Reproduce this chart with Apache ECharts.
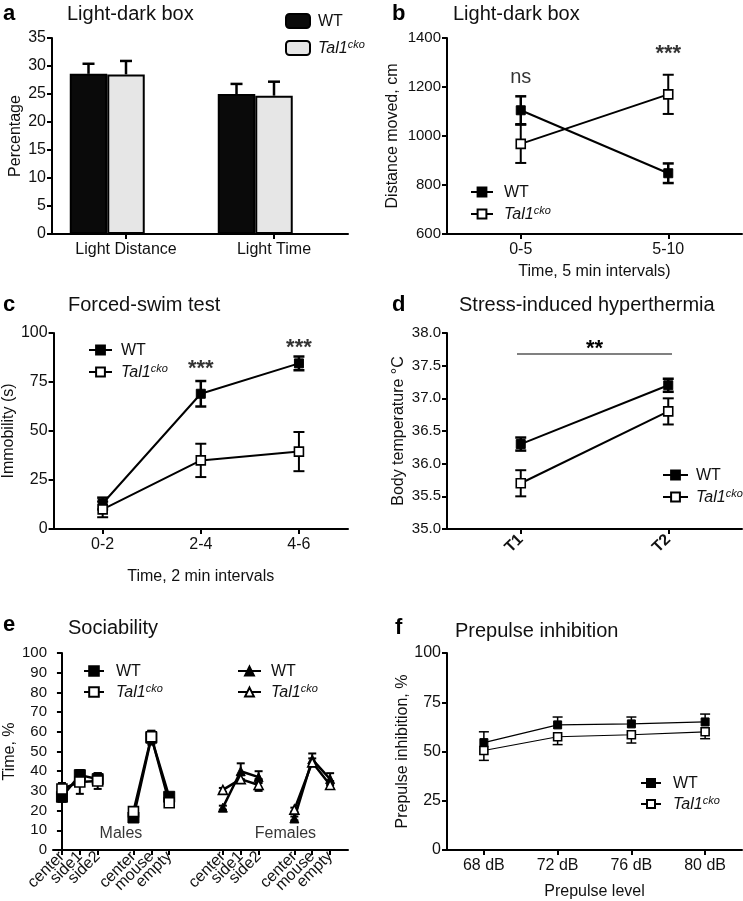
<!DOCTYPE html>
<html><head><meta charset="utf-8">
<script src="https://cdn.jsdelivr.net/npm/echarts@6/dist/echarts.min.js"></script>
<style>html,body{margin:0;padding:0;background:#fff}#c{width:743px;height:901px}</style>
</head><body><div id="c"></div><script>
// ---------- DATA ----------
const aCategories = ['Light Distance', 'Light Time'];
const aWT = [28.6, 25.0];
const aWTerr = [1.8, 1.8];
const aTal = [28.5, 24.7];
const aTalErr = [2.4, 2.5];

const bCategories = ['0-5', '5-10'];
const bWT = [1105, 848];
const bWTerr = [57, 40];
const bTal = [968, 1170];
const bTalErr = [78, 80];
const bSigText = ['ns', '***'];
const bSigY = [1237, 1335];

const cCategories = ['0-2', '2-4', '4-6'];
const cWT = [13, 69, 84.5];
const cWTerr = [3, 6.5, 3.5];
const cTal = [10, 35, 39.5];
const cTalErr = [4, 8.5, 10];
const cSigText = ['', '***', '***'];
const cSigY = [0, 81.5, 92.5];

const dCategories = ['T1', 'T2'];
const dWT = [36.3, 37.2];
const dWTerr = [0.1, 0.1];
const dTal = [35.7, 36.8];
const dTalErr = [0.2, 0.2];
const dSigY = 37.68;

const eTickLabels = ['center', 'side1', 'side2', '', 'center', 'mouse', 'empty', '', '', 'center', 'side1', 'side2', '', 'center', 'mouse', 'empty'];
const eTickVals = [0, 1, 2, 4, 5, 6, 9, 10, 11, 13, 14, 15];
const eMalePos = [[0, 1, 2], [4, 5, 6]];
const eFemPos = [[9, 10, 11], [13, 14, 15]];
const eMaleWT = [27, 38, 36, 16.5, 57, 27];
const eMaleWTerr = [2.5, 2.5, 3, 1.5, 3.5, 1.5];
const eMaleTal = [31, 34.5, 35, 19.5, 57.5, 24];
const eMaleTalErr = [3, 6, 4, 2, 3, 2];
const eFemWT = [21.5, 40, 37, 16, 46, 36];
const eFemWTerr = [1, 4, 3, 1, 3, 3];
const eFemTal = [30.5, 36, 33, 20.5, 44.5, 33];
const eFemTalErr = [1, 2, 3, 1, 2, 2];
const eGroupText = ['Males', 'Females'];
const eGroupX = [3.3, 12.5];
const eGroupY = [8.1, 8.1];

const fCategories = ['68 dB', '72 dB', '76 dB', '80 dB'];
const fWT = [54.5, 63.5, 64, 65];
const fWTerr = [5.5, 4, 3.5, 4];
const fTal = [50.5, 57.5, 58.5, 60];
const fTalErr = [5, 4, 4.2, 3.5];

// ---------- HELPERS ----------
const FONT = 'Liberation Sans, Arial, Helvetica, sans-serif';
const INK = '#111';

function errRender(dir, capHalf, offsetRatio, lw) {
  return function (params, api) {
    const xi = api.value(0), v = api.value(1), e = api.value(2);
    let dx = 0;
    if (offsetRatio) dx = api.size([1, 0])[0] * offsetRatio;
    const p = api.coord([xi, v]);
    const x = p[0] + dx;
    const pu = api.coord([xi, v + e]);
    const pd = api.coord([xi, v - e]);
    const yTop = dir === 'down' ? p[1] : pu[1];
    const yBot = dir === 'up' ? p[1] : pd[1];
    const st = { stroke: '#000', lineWidth: lw };
    const ch = [{ type: 'line', shape: { x1: x, y1: yTop, x2: x, y2: yBot }, style: st }];
    if (dir !== 'down') ch.push({ type: 'line', shape: { x1: x - capHalf, y1: pu[1], x2: x + capHalf, y2: pu[1] }, style: st });
    if (dir !== 'up') ch.push({ type: 'line', shape: { x1: x - capHalf, y1: pd[1], x2: x + capHalf, y2: pd[1] }, style: st });
    return { type: 'group', children: ch };
  };
}
function errSeries(ax, vals, errs, dir, capHalf, lw, offsetRatio, xs) {
  return {
    type: 'custom', xAxisIndex: ax, yAxisIndex: ax, z: 1, silent: true,
    renderItem: errRender(dir, capHalf, offsetRatio || 0, lw),
    data: vals.map((v, i) => [xs ? xs[i] : i, v, errs[i]]),
    encode: { x: 0, y: 1 }
  };
}
function lineSeries(ax, name, vals, filled, symbol, size, lw, xs) {
  return {
    type: 'line', name: name, xAxisIndex: ax, yAxisIndex: ax, z: 3,
    data: xs ? vals.map((v, i) => [xs[i], v]) : vals,
    symbol: symbol, symbolSize: size, showSymbol: true,
    lineStyle: { color: '#000', width: lw },
    itemStyle: filled ? { color: '#000', borderColor: '#000', borderWidth: 1 } : { color: '#fff', borderColor: '#000', borderWidth: 1.6 },
    emphasis: { disabled: true }, animation: false
  };
}
function legend(names, left, top, itemWidth, itemHeight, gap, pad) {
  return {
    data: names, orient: 'vertical', left: left, top: top,
    itemWidth: itemWidth, itemHeight: itemHeight, itemGap: gap, selectedMode: false,
    formatter: n => n.indexOf('WT') === 0 ? '{n|WT}' : '{i|Tal1}{s|cko}',
    textStyle: {
      rich: {
        n: { fontSize: 16, color: INK, fontFamily: FONT, padding: [0, 0, 0, pad], verticalAlign: 'bottom', lineHeight: 18 },
        i: { fontSize: 16, color: INK, fontFamily: FONT, fontStyle: 'italic', padding: [0, 0, 0, pad], verticalAlign: 'bottom', lineHeight: 18 },
        s: { fontSize: 11, color: INK, fontFamily: FONT, fontStyle: 'italic', padding: [0, 0, 7, 0], verticalAlign: 'bottom', lineHeight: 12 }
      }
    }
  };
}
function yAxis(ax, min, max, interval, name, nameGap, fs, fmt) {
  return {
    type: 'value', gridIndex: ax, min: min, max: max, interval: interval,
    name: name, nameLocation: 'middle', nameGap: nameGap,
    nameTextStyle: { fontSize: 16, color: INK, fontFamily: FONT },
    axisLine: { show: true, lineStyle: { color: '#000', width: 2 } },
    axisTick: { show: true, length: 5, lineStyle: { color: '#000', width: 2 } },
    axisLabel: { fontSize: fs, color: INK, margin: 6, fontFamily: FONT, formatter: fmt || (v => String(v)) },
    splitLine: { show: false }
  };
}
function xCat(ax, cats, fs, name, nameGap, extra) {
  return Object.assign({
    type: 'category', gridIndex: ax, data: cats, boundaryGap: true,
    name: name || '', nameLocation: 'middle', nameGap: nameGap || 30,
    nameTextStyle: { fontSize: 16, color: INK, fontFamily: FONT },
    axisLine: { show: true, lineStyle: { color: '#000', width: 2 } },
    axisTick: { show: true, alignWithLabel: true, length: 5, lineStyle: { color: '#000', width: 2 } },
    axisLabel: { fontSize: fs, color: INK, margin: 8, fontFamily: FONT },
    splitLine: { show: false }
  }, extra || {});
}
function annot(ax, data, fs, bold) {
  return {
    type: 'scatter', xAxisIndex: ax, yAxisIndex: ax, symbolSize: 0, silent: true, z: 5,
    itemStyle: { color: '#000' },
    data: data,
    label: { show: true, position: 'inside', formatter: p => p.data[2], fontSize: fs, color: '#000',
      textBorderWidth: 0, textBorderColor: 'transparent', fontFamily: FONT, fontWeight: bold ? 'bold' : 'normal' },
    emphasis: { disabled: true }
  };
}

// ---------- OPTION ----------
const grids = [
  { left: 52, top: 38, width: 296, height: 196 },
  { left: 447, top: 38, width: 295, height: 196 },
  { left: 53, top: 333, width: 295, height: 196 },
  { left: 447, top: 333, width: 295, height: 196 },
  { left: 53, top: 653, width: 295, height: 197 },
  { left: 447, top: 653, width: 295, height: 197 }
];

const series = [];
// a
series.push({ type: 'bar', name: 'WT_a', xAxisIndex: 0, yAxisIndex: 0, data: aWT, barGap: '0%', barCategoryGap: '24%',
  itemStyle: { color: '#0a0a0a', borderColor: '#000', borderWidth: 2 }, z: 2 });
series.push({ type: 'bar', name: 'Tal_a', xAxisIndex: 0, yAxisIndex: 0, data: aTal, barGap: '0%', barCategoryGap: '24%',
  itemStyle: { color: '#e6e6e6', borderColor: '#000', borderWidth: 2 }, z: 2 });
series.push({ type: 'bar', name: 'blank_a', xAxisIndex: 0, yAxisIndex: 0, data: ['-', '-'], barGap: '0%', barCategoryGap: '24%' });
series.push(errSeries(0, aWT, aWTerr, 'up', 6, 2.5, -0.2533));
series.push(errSeries(0, aTal, aTalErr, 'up', 6, 2.5, 0));
// b
series.push(errSeries(1, bWT, bWTerr, 'both', 5.5, 2.5));
series.push(errSeries(1, bTal, bTalErr, 'both', 5.5, 2));
series.push(lineSeries(1, 'WT_b', bWT, true, 'rect', 9, 2));
series.push(lineSeries(1, 'Tal_b', bTal, false, 'rect', 9, 2));
series.push(annot(1, [[0, bSigY[0], bSigText[0]]], 20, false));
series.push(annot(1, [[1, bSigY[1], bSigText[1]]], 22, true));
// c
series.push(errSeries(2, cWT, cWTerr, 'both', 5.5, 2.5));
series.push(errSeries(2, cTal, cTalErr, 'both', 5.5, 2));
series.push(lineSeries(2, 'WT_c', cWT, true, 'rect', 9, 2));
series.push(lineSeries(2, 'Tal_c', cTal, false, 'rect', 9, 2));
series.push(annot(2, cSigText.map((t, i) => [i, cSigY[i], t]), 22, true));
// d
series.push(errSeries(3, dWT, dWTerr, 'both', 5.5, 2.5));
series.push(errSeries(3, dTal, dTalErr, 'both', 5.5, 2));
const dWTline = lineSeries(3, 'WT_d', dWT, true, 'rect', 9, 2);
dWTline.markLine = {
  silent: true, symbol: 'none', animation: false,
  lineStyle: { color: '#808080', width: 2, type: 'solid' },
  label: { show: true, position: 'middle', formatter: '**', fontSize: 22, fontWeight: 'bold', color: '#000', distance: -6 },
  data: [[{ coord: [0, dSigY], x: 517 }, { coord: [1, dSigY], x: 672 }]]
};
series.push(dWTline);
series.push(lineSeries(3, 'Tal_d', dTal, false, 'rect', 9, 2));
// e
[[eMalePos, eMaleWT, eMaleWTerr, 'WT_em', true, 'rect', 11], [eMalePos, eMaleTal, eMaleTalErr, 'Tal_em', false, 'rect', 10],
 [eFemPos, eFemWT, eFemWTerr, 'WT_ef', true, 'triangle', 9], [eFemPos, eFemTal, eFemTalErr, 'Tal_ef', false, 'triangle', 9]].forEach(g => {
  const [pos, vals, errs, name, filled, sym, size] = g;
  pos.forEach((xs, gi) => {
    const v = vals.slice(gi * 3, gi * 3 + 3), er = errs.slice(gi * 3, gi * 3 + 3);
    series.push(errSeries(4, v, er, 'both', 4, 2, 0, xs));
    series.push(lineSeries(4, name, v, filled, sym, size, 2.5, xs));
  });
});
series.push(annot(4, eGroupText.map((t, i) => [eGroupX[i], eGroupY[i], t]), 16, false));
// f
series.push(errSeries(5, fWT, fWTerr, 'up', 5, 1.5));
series.push(errSeries(5, fTal, fTalErr, 'down', 5, 1.5));
series.push(lineSeries(5, 'WT_f', fWT, true, 'rect', 8, 1.2));
series.push(lineSeries(5, 'Tal_f', fTal, false, 'rect', 8, 1.2));

// label positions for panel e include the (blank) axis ends so no real label is auto-hidden
const eLabelVals = [-0.5].concat(eTickVals, [16]);

const option = {
  animation: false,
  textStyle: { fontFamily: FONT, color: INK },
  grid: grids,
  xAxis: [
    xCat(0, aCategories, 16),
    xCat(1, bCategories, 16, 'Time, 5 min intervals)', 30),
    xCat(2, cCategories, 16, 'Time, 2 min intervals', 40),
    xCat(3, dCategories, 16, '', 30, { axisLabel: { fontSize: 16, color: INK, rotate: 45, margin: 8, fontWeight: 'bold', fontFamily: FONT } }),
    {
      type: 'value', gridIndex: 4, min: -0.5, max: 16,
      axisLine: { show: true, lineStyle: { color: '#000', width: 2 } },
      axisTick: { show: true, length: 5, customValues: eTickVals, lineStyle: { color: '#000', width: 2 } },
      axisLabel: { show: true, customValues: eLabelVals, rotate: 45, fontSize: 16, color: INK, margin: 4, fontFamily: FONT,
        hideOverlap: false,
        formatter: v => (Number.isInteger(v) && eTickLabels[v]) ? eTickLabels[v] : '' },
      splitLine: { show: false }
    },
    xCat(5, fCategories, 16, 'Prepulse level', 34)
  ],
  yAxis: [
    yAxis(0, 0, 35, 5, 'Percentage', 28, 16),
    yAxis(1, 600, 1400, 200, 'Distance moved, cm', 46, 15),
    yAxis(2, 0, 100, 25, 'Immobility (s)', 24, 16),
    yAxis(3, 35, 38, 0.5, 'Body temperature \u00B0C', 40, 15, v => v.toFixed(1)),
    yAxis(4, 0, 100, 10, 'Time, %', 24, 15),
    yAxis(5, 0, 100, 25, 'Prepulse inhibition, %', 24, 16)
  ],
  legend: [
    legend(['WT_a', 'Tal_a'], 280, 8, 24, 14, 9, 3),
    legend(['WT_b', 'Tal_b'], 465, 180, 22, 11, 4, 6),
    legend(['WT_c', 'Tal_c'], 83, 338, 23, 11, 4, 4),
    legend(['WT_d', 'Tal_d'], 657, 463, 25, 11, 4, 3),
    legend(['WT_em', 'Tal_em'], 78, 659, 20, 12, 3, 7),
    legend(['WT_ef', 'Tal_ef'], 232, 659, 23, 11, 3, 5),
    legend(['WT_f', 'Tal_f'], 635, 771, 20, 10, 3, 7)
  ],
  graphic: [
    ['a', 3, 14], ['b', 392, 14], ['c', 3, 305], ['d', 392, 305], ['e', 3, 625], ['f', 395, 628]
  ].map(t => ({ type: 'text', x: t[1], y: t[2], style: { text: t[0], font: 'bold 22px ' + FONT, fill: '#000', textVerticalAlign: 'middle', verticalAlign: 'middle' } }))
  .concat([
    ['Light-dark box', 67, 14], ['Light-dark box', 453, 14], ['Forced-swim test', 68, 305],
    ['Stress-induced hyperthermia', 459, 305], ['Sociability', 68, 628], ['Prepulse inhibition', 455, 631]
  ].map(t => ({ type: 'text', x: t[1], y: t[2], style: { text: t[0], font: '20px ' + FONT, fill: INK, textVerticalAlign: 'middle', verticalAlign: 'middle' } }))),
  series: series
};

const chart = echarts.init(document.getElementById('c'), null, { renderer: 'canvas' });
chart.setOption(option);
</script></body></html>
